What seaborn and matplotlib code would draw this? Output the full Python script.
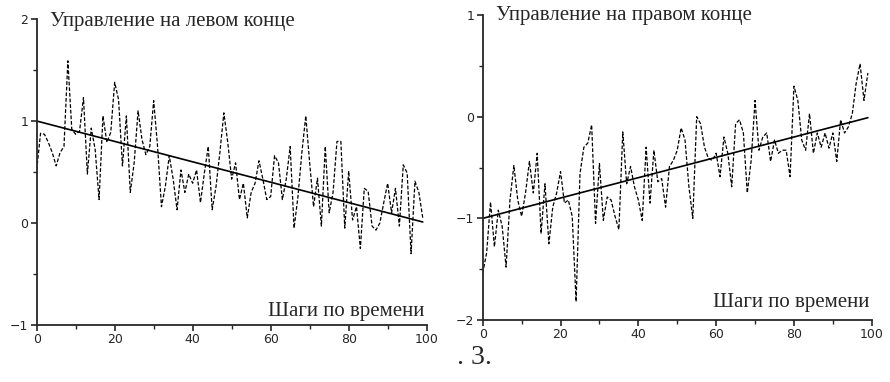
import numpy as np
import pandas as pd
import seaborn as sns
import matplotlib.pyplot as plt

# data
steps = list(range(100))
left_control = [0.52, 0.88, 0.87, 0.79, 0.69, 0.56, 0.69, 0.75, 1.59, 0.92,
                0.87, 0.90, 1.23, 0.48, 0.93, 0.72, 0.23, 1.05, 0.79, 0.89,
                1.38, 1.21, 0.56, 1.05, 0.30, 0.59, 1.10, 0.82, 0.67, 0.75,
                1.20, 0.75, 0.16, 0.36, 0.66, 0.43, 0.13, 0.52, 0.30, 0.48,
                0.39, 0.52, 0.20, 0.49, 0.75, 0.13, 0.36, 0.70, 1.08, 0.79,
                0.43, 0.59, 0.23, 0.39, 0.05, 0.30, 0.39, 0.61, 0.43, 0.23,
                0.26, 0.66, 0.59, 0.23, 0.43, 0.75, -0.05, 0.26, 0.69, 1.05,
                0.59, 0.16, 0.44, -0.03, 0.75, 0.10, 0.30, 0.80, 0.80, -0.05,
                0.51, 0.03, 0.16, -0.25, 0.34, 0.31, -0.03, -0.07, 0.00, 0.20,
                0.39, 0.10, 0.34, -0.03, 0.57, 0.49, -0.30, 0.41, 0.30, 0.05]
right_control = [-1.54, -1.34, -0.84, -1.28, -0.92, -1.08, -1.48, -0.82, -0.48, -0.82,
                 -0.98, -0.75, -0.44, -0.75, -0.36, -1.15, -0.66, -1.25, -0.89, -0.75,
                 -0.54, -0.85, -0.82, -0.98, -1.82, -0.56, -0.30, -0.26, -0.08, -1.05,
                 -0.46, -1.02, -0.79, -0.82, -0.98, -1.11, -0.15, -0.66, -0.49, -0.69,
                 -0.82, -1.02, -0.30, -0.85, -0.33, -0.64, -0.61, -0.89, -0.49, -0.43,
                 -0.33, -0.11, -0.23, -0.69, -1.00, 0.00, -0.07, -0.30, -0.41, -0.43,
                 -0.36, -0.59, -0.20, -0.36, -0.69, -0.07, -0.03, -0.16, -0.75, -0.43,
                 0.16, -0.33, -0.20, -0.16, -0.44, -0.23, -0.36, -0.33, -0.33, -0.59,
                 0.30, 0.16, -0.23, -0.33, 0.03, -0.36, -0.16, -0.30, -0.16, -0.31,
                 -0.16, -0.44, -0.03, -0.16, -0.10, 0.03, 0.33, 0.52, 0.16, 0.43]
trend_steps = [0, 99]
left_trend = [1.0, 0.01]
right_trend = [-1.0, -0.01]

left_title = 'Управление на левом конце'
right_title = 'Управление на правом конце'
xlabel_text = 'Шаги по времени'

sns.set_style('ticks')
plt.rcParams['font.family'] = ['DejaVu Sans']

df = pd.DataFrame({'step': steps, 'left': left_control, 'right': right_control})
tr = pd.DataFrame({'step': trend_steps, 'left': left_trend, 'right': right_trend})

fig = plt.figure(figsize=(8.9, 3.82), dpi=100)
ax1 = fig.add_axes([0.0412, 0.1492, 0.4382, 0.801])
ax2 = fig.add_axes([0.5424, 0.1623, 0.4371, 0.7984])

panels = [(ax1, 'left', left_title, (-1, 2), 0.977, 0.03),
          (ax2, 'right', right_title, (-2, 1), 0.984, 0.043)]

for ax, col, title, ylim, ty, by in panels:
    sns.lineplot(data=df, x='step', y=col, ax=ax, color='black', lw=0.9,
                 linestyle=(0, (3, 1.5)))
    sns.lineplot(data=tr, x='step', y=col, ax=ax, color='black', lw=1.2)
    ax.set_xlim(0, 100)
    ax.set_ylim(*ylim)
    ax.set_xticks([0, 20, 40, 60, 80, 100])
    ax.set_xticks([10, 30, 50, 70, 90], minor=True)
    ax.set_yticks(range(ylim[0], ylim[1] + 1))
    ax.set_yticks(np.arange(ylim[0] + 0.5, ylim[1], 1.0), minor=True)
    ax.set_yticklabels([str(v).replace('-', '\u2212') for v in range(ylim[0], ylim[1] + 1)])
    ax.tick_params(which='major', length=4.5, width=1.2, labelsize=9, pad=1.5)
    ax.tick_params(which='minor', length=3, width=1.0)
    ax.set_xlabel('')
    ax.set_ylabel('')
    ax.spines['top'].set_visible(False)
    ax.spines['right'].set_visible(False)
    ax.spines['left'].set_linewidth(1.3)
    ax.spines['bottom'].set_linewidth(1.3)
    ax.text(0.033, ty, title, transform=ax.transAxes, fontsize=15,
            family='Liberation Serif', ha='left', va='baseline')
    ax.text(0.995, by, xlabel_text, transform=ax.transAxes, fontsize=15,
            family='Liberation Serif', ha='right', va='baseline')

fig.text(474 / 890, 1 - 364 / 382, '. 3.', fontsize=20,
         family='Liberation Serif', ha='center', va='baseline')

fig.savefig('out.png', dpi=100)
